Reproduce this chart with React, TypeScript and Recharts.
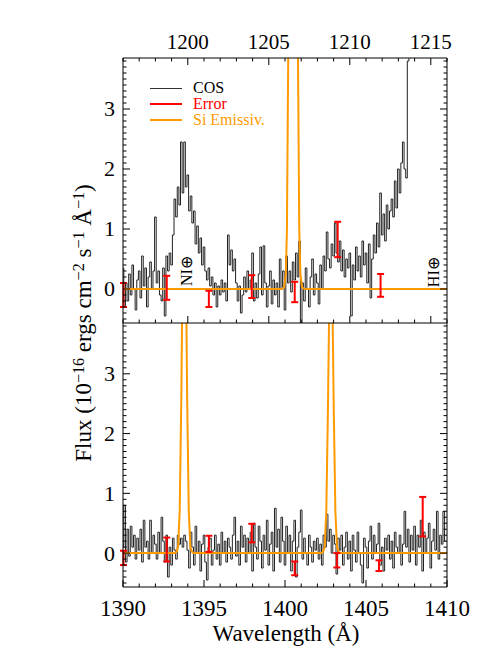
import React from 'react'
import { ComposedChart, Line, Scatter, ErrorBar, XAxis, YAxis, ReferenceDot } from 'recharts'

const SERIF = '"Liberation Serif", "Times New Roman", serif'

// COS flux, 0.1 Å bins (10^-16 ergs cm^-2 s^-1 Å^-1)
const binWidth = 0.1
const cosTopStart = 1196.0
const cosTopFlux = [
  0.35, -0.3, 0.1, -0.2, 0.25, -0.1, 0.4, 0.0, -0.35, 0.15, 0.3, -0.15, 0.55, 0.05, 0.35, -0.3, 0.2, 0.45, 0.0, 0.3,
  1.2, 0.1, 0.3, -0.1, -0.2, 0.35, -0.45, 0.55, 0.3, 0.6, 0.4, 0.9, 1.5, 1.2, 1.7, 1.4, 2.45, 1.6, 2.45, 1.7,
  1.9, 1.3, 1.55, 1.1, 1.3, 0.75, 1.05, 0.6, 0.85, 0.4, 0.7, 0.3, 0.15, 0.35, 0.05, 0.2, -0.1, 0.1, -0.3, 0.05,
  -0.1, 0.15, -0.05, 0.1, -0.2, 0.9, 0.4, 0.65, 0.3, 0.5, 0.1, -0.2, 0.05, -0.4, -0.1, 0.2, -0.05, 0.3, 0.0, 0.15,
  0.6, -0.2, 0.1, -0.15, 0.25, 0.7, -0.1, 0.72, 0.1, -0.3, 0.05, 0.3, -0.25, 0.15, -0.1, 0.1, -0.3, 0.5, 0.0, 0.3,
  -0.35, 0.55, 0.1, 0.3, -0.05, 0.45, 0.15, 0.6, 0.2, 0.8, -0.6, 0.1, -0.2, 0.35, 0.0, -0.3, 0.2, 0.5, -0.1, 0.25,
  0.1, -0.25, 0.4, 0.0, 0.55, 0.3, 0.95, 0.5, 0.35, 0.75, 0.55, 1.1, 0.6, 0.45, 0.8, 0.3, 0.65, 0.2, 0.5, 0.35,
  0.6, -0.45, 0.4, 0.15, 0.7, 0.3, 0.55, 0.2, 0.8, 0.4, 0.6, 0.1, 0.75, -0.15, 0.5, 0.9, 0.6, 1.1, 0.7, 1.6,
  0.9, 1.25, 0.8, 1.4, 1.0, 1.3, 1.5, 1.2, 1.8, 1.35, 2.0, 1.6, 2.1, 2.45, 2.0, 1.85, 3.8, 6.5, 8.0, 9.0,
  9.5, 10.8, 12.1, 13.5, 15.2, 16.8, 18.0, 19.4, 20.1, 21.3, 21.9, 22.4, 22.0, 21.6, 20.8, 19.7, 18.3, 17.0, 15.6, 14.1,
]
const cosBotStart = 1390.0
const cosBotFlux = [
  0.1, 0.8, -0.15, 0.4, -0.05, 0.45, 0.1, 0.3, -0.1, 0.25, 0.05, 0.4, -0.15, 0.55, 0.1, 0.2, -0.1, 0.55, 0.0, 0.3,
  0.15, -0.1, 0.35, 0.0, 0.6, 0.2, -0.15, 0.3, -0.4, 0.1, -0.2, 0.25, 0.05, -0.1, 0.3, 0.15, 0.25, 0.1, 0.3, 0.2,
  0.05, -0.25, 0.35, 0.1, -0.2, 0.45, 0.0, 0.2, -0.3, 0.15, 0.3, -0.15, -0.45, 0.1, 0.25, -0.2, 0.05, 0.3, -0.1, 0.15,
  -0.2, 0.35, 0.0, 0.2, -0.15, 0.25, 0.1, -0.1, 0.3, 0.6, -0.05, 0.2, -0.2, 0.45, 0.1, 0.3, -0.15, 0.25, 0.0, 0.35,
  -0.3, 0.5, 0.1, -0.1, 0.45, 0.2, -0.25, 0.3, 0.05, 0.55, -0.2, 0.15, 0.35, -0.3, 0.75, 0.1, 0.4, -0.15, 0.6, 0.2,
  -0.2, 0.45, 0.0, 0.3, -0.3, 0.2, 0.55, -0.4, 0.1, 0.35, 0.72, -0.1, 0.25, 0.0, -0.2, 0.3, 0.1, -0.15, 0.2, 0.05,
  0.25, -0.1, 0.15, -0.2, 0.3, 0.1, 0.65, 0.2, 0.4, 0.0, 0.3, 0.15, -0.35, 0.25, 0.05, 0.3, -0.2, 0.1, 0.35, -0.1,
  0.2, -0.3, 0.3, 0.05, -0.15, 0.35, 0.0, -0.2, -0.5, 0.25, 0.1, -0.25, 0.2, 0.45, -0.1, 0.3, 0.0, 0.15, 0.5, -0.2,
  0.1, -0.3, 0.25, 0.05, 0.3, -0.1, 0.2, -0.25, 0.35, 0.1, 0.0, 0.3, -0.2, 0.15, 0.7, 0.1, 0.4, -0.15, 0.3, 0.05,
  0.45, -0.2, 0.3, 0.1, 0.55, -0.3, 0.35, 0.0, 0.25, 0.5, -0.25, 0.2, 0.4, 0.05, 0.7, -0.1, 0.3, 0.15, 0.7, 0.2,
]

// Si emissivity model
const siTopWave = [1196, 1205.8, 1205.95, 1206.05, 1206.12, 1206.2, 1206.3, 1206.5, 1206.7, 1206.8, 1206.88, 1206.95, 1207.05, 1207.2, 1216]
const siTopFlux = [0, 0, 0.03, 0.25, 1.0, 3.9, 12, 25, 12, 3.9, 1.0, 0.25, 0.03, 0, 0]
const siBotWave = [
  1390, 1393.2, 1393.3, 1393.4, 1393.5, 1393.6, 1393.7, 1393.78, 1393.86, 1393.96, 1394.06, 1394.16, 1394.26, 1394.36,
  1402.25, 1402.35, 1402.45, 1402.55, 1402.65, 1402.75, 1402.83, 1402.91, 1403.01, 1403.11, 1403.21, 1403.31, 1403.41, 1410,
]
const siBotFlux = [
  0, 0, 0.02, 0.1, 0.7, 2.6, 5.5, 7, 5.5, 2.6, 0.7, 0.1, 0.02, 0,
  0, 0.02, 0.1, 0.7, 2.4, 4.6, 5.5, 4.6, 2.4, 0.7, 0.1, 0.02, 0, 0,
]

// error bars
const errTopWave = [1196.03, 1198.7, 1201.3, 1203.95, 1206.6, 1209.25, 1211.9]
const errTopLow = [-0.3, -0.18, -0.3, -0.15, -0.22, 0.53, -0.13]
const errTopHigh = [0.1, 0.22, -0.03, 0.23, 0.12, 1.12, 0.25]
const errBotWave = [1390.03, 1392.7, 1395.3, 1397.95, 1400.6, 1403.2, 1405.8, 1408.5]
const errBotLow = [-0.2, -0.14, 0.02, 0.18, -0.37, -0.24, -0.3, 0.28]
const errBotHigh = [0.04, 0.26, 0.29, 0.49, -0.14, 0.0, -0.12, 0.94]

// axes
const yDomain = [-0.567, 3.85]
const yMajor = [0, 1, 2, 3]
const xTopDomain = [1196, 1216]
const xTopMajor = [1200, 1205, 1210, 1215]
const xBotDomain = [1390, 1410]
const xBotMajor = [1390, 1395, 1400, 1405, 1410]

const range = (a: number, b: number, step: number) => {
  const out: number[] = []
  for (let v = a; v <= b + 1e-9; v += step) out.push(Math.round(v * 10) / 10)
  return out
}
const yTicks = range(-0.5, 3.8, 0.1)

const bins = (start: number, flux: number[]) =>
  flux.map((y, i) => ({ x: Math.round((start + i * binWidth) * 100) / 100, y }))
const pairs = (xs: number[], ys: number[]) => xs.map((x, i) => ({ x, y: ys[i] }))
const errs = (xs: number[], lo: number[], hi: number[]) =>
  xs.map((x, i) => {
    const mid = (lo[i] + hi[i]) / 2
    return { x, y: mid, err: [mid - lo[i], hi[i] - mid] }
  })

type Side = 'top' | 'bottom' | 'left' | 'right'

function tickMark(side: Side, majors: number[], fontSize: number, showLabels: boolean) {
  return (props: any) => {
    const { x, y, payload } = props
    const v = payload.value
    const isMajor = majors.some((m) => Math.abs(m - v) < 1e-6)
    const len = isMajor ? 7 : 3.5
    let x2 = x
    let y2 = y
    if (side === 'bottom') y2 = y - len
    if (side === 'top') y2 = y + len
    if (side === 'left') x2 = x + len
    if (side === 'right') x2 = x - len
    let label = null
    if (showLabels && isMajor) {
      const common = { fontSize, fontFamily: SERIF, fill: '#000' }
      if (side === 'top') label = <text x={x} y={y - 9} textAnchor="middle" {...common}>{v}</text>
      if (side === 'bottom') label = <text x={x} y={y + 29} textAnchor="middle" {...common}>{v}</text>
      if (side === 'left') label = <text x={x - 8} y={y + 7.5} textAnchor="end" {...common}>{v}</text>
    }
    return (
      <g>
        <line x1={x} y1={y} x2={x2} y2={y2} stroke="#000" strokeWidth={1} />
        {label}
      </g>
    )
  }
}

const rotatedNote = (text: string) => (p: any) => (
  <text
    x={p.cx}
    y={p.cy}
    transform={`rotate(-90 ${p.cx} ${p.cy})`}
    textAnchor="middle"
    dominantBaseline="central"
    fontSize={16}
    fontFamily={SERIF}
    fill="#000"
  >
    {text}
  </text>
)

interface PanelProps {
  labelSide: 'top' | 'bottom'
  domain: number[]
  majors: number[]
  cos: { x: number; y: number }[]
  si: { x: number; y: number }[]
  err: { x: number; y: number; err: number[] }[]
  notes?: { x: number; y: number; text: string }[]
}

function Panel({ labelSide, domain, majors, cos, si, err, notes = [] }: PanelProps) {
  const isTop = labelSide === 'top'
  const xTicks = range(domain[0], domain[1], 1)
  const axisCommon = {
    type: 'number' as const,
    allowDataOverflow: true,
    interval: 0 as const,
    tickSize: 0,
    tickMargin: 0,
    tickLine: false,
    axisLine: { stroke: '#000', strokeWidth: 1 },
  }
  return (
    <ComposedChart width={485} height={isTop ? 324 : 323} margin={{ top: 0, right: 0, bottom: 0, left: 0 }}>
      <XAxis
        {...axisCommon}
        xAxisId="b"
        dataKey="x"
        orientation="bottom"
        domain={domain}
        ticks={xTicks}
        height={isTop ? 1 : 59}
        tick={tickMark('bottom', majors, 23, !isTop)}
      />
      <XAxis
        {...axisCommon}
        xAxisId="t"
        dataKey="x"
        orientation="top"
        domain={domain}
        ticks={xTicks}
        height={isTop ? 58 : 0}
        tick={tickMark('top', majors, 21, isTop)}
      />
      <YAxis
        {...axisCommon}
        yAxisId="l"
        orientation="left"
        domain={yDomain}
        ticks={yTicks}
        width={123}
        tick={tickMark('left', yMajor, 22, true)}
      />
      <YAxis
        {...axisCommon}
        yAxisId="r"
        orientation="right"
        domain={yDomain}
        ticks={yTicks}
        width={38}
        tick={tickMark('right', yMajor, 22, false)}
      />
      <Line
        xAxisId="b"
        yAxisId="l"
        data={cos}
        dataKey="y"
        type="step"
        stroke="#222"
        strokeWidth={1}
        dot={false}
        isAnimationActive={false}
      />
      <Line
        xAxisId="b"
        yAxisId="l"
        data={si}
        dataKey="y"
        type="linear"
        stroke="#FF9A00"
        strokeWidth={2}
        dot={false}
        isAnimationActive={false}
      />
      <Scatter
        xAxisId="b"
        yAxisId="l"
        data={err}
        dataKey="y"
        fill="none"
        shape={() => <g />}
        isAnimationActive={false}
      >
        <ErrorBar dataKey="err" direction="y" width={3.5} stroke="#FF0000" strokeWidth={2} />
      </Scatter>
      {notes.map((n) => (
        <ReferenceDot key={n.text} xAxisId="b" yAxisId="l" x={n.x} y={n.y} r={0} shape={rotatedNote(n.text)} />
      ))}
    </ComposedChart>
  )
}

export default function App() {
  const sup = { fontSize: '0.7em', verticalAlign: '0.45em' }
  return (
    <div style={{ position: 'absolute', left: 0, top: 0, width: 485, height: 646, background: '#fff', fontFamily: SERIF }}>
      <div style={{ position: 'absolute', left: 0, top: 323 }}>
        <Panel
          labelSide="bottom"
          domain={xBotDomain}
          majors={xBotMajor}
          cos={bins(cosBotStart, cosBotFlux)}
          si={pairs(siBotWave, siBotFlux)}
          err={errs(errBotWave, errBotLow, errBotHigh)}
        />
      </div>
      <div style={{ position: 'absolute', left: 0, top: 0 }}>
        <Panel
          labelSide="top"
          domain={xTopDomain}
          majors={xTopMajor}
          cos={bins(cosTopStart, cosTopFlux)}
          si={pairs(siTopWave, siTopFlux)}
          err={errs(errTopWave, errTopLow, errTopHigh)}
          notes={[
            { x: 1199.95, y: 0.3, text: 'NI⊕' },
            { x: 1215.15, y: 0.28, text: 'HI⊕' },
          ]}
        />
      </div>

      {/* legend */}
      <div style={{ position: 'absolute', left: 150, top: 80, fontSize: 16, lineHeight: '16px' }}>
        {[
          { name: 'COS', color: '#333', w: 1.5 },
          { name: 'Error', color: '#FF0000', w: 2 },
          { name: 'Si Emissiv.', color: '#FF9A00', w: 2 },
        ].map((it) => (
          <div key={it.name} style={{ display: 'flex', alignItems: 'center', height: 16 }}>
            <div style={{ width: 32, borderTop: `${it.w}px solid ${it.color}` }} />
            <span style={{ marginLeft: 11, color: it.color === '#333' ? '#000' : it.color, whiteSpace: 'nowrap' }}>{it.name}</span>
          </div>
        ))}
      </div>

      {/* axis titles */}
      <div
        style={{
          position: 'absolute',
          left: 83,
          top: 323,
          transform: 'translate(-50%, -50%) rotate(-90deg)',
          fontSize: 23,
          whiteSpace: 'nowrap',
          lineHeight: 1,
        }}
      >
        Flux (10<span style={sup}>−16</span> ergs cm<span style={sup}>−2</span> s<span style={sup}>−1</span> Å
        <span style={sup}>−1</span>)
      </div>
      <div
        style={{
          position: 'absolute',
          left: 286,
          top: 633,
          transform: 'translate(-50%, -50%)',
          fontSize: 23,
          whiteSpace: 'nowrap',
          lineHeight: 1,
        }}
      >
        Wavelength (Å)
      </div>
    </div>
  )
}
